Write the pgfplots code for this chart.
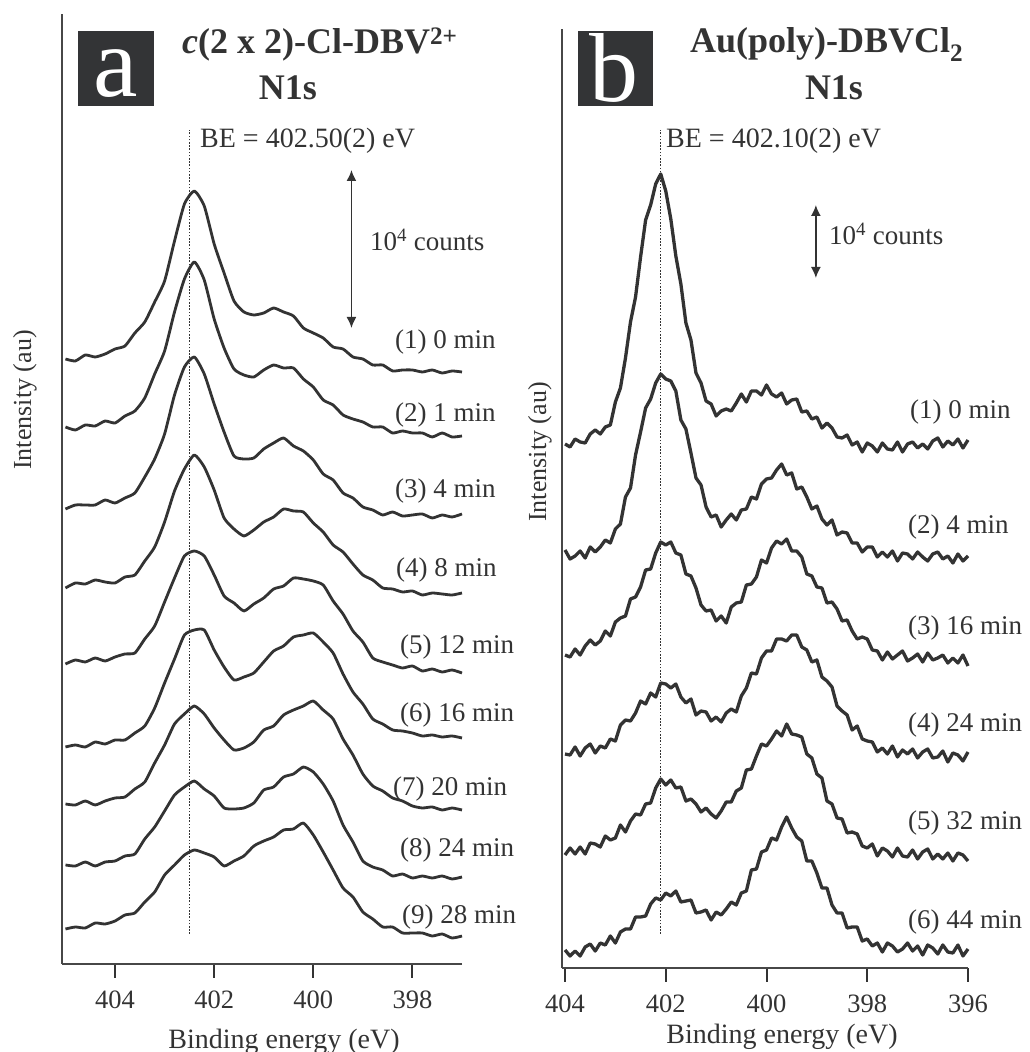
\documentclass[border=0pt]{standalone}
\usepackage{fontspec}
\setmainfont{Liberation Serif}
\usepackage{pgfplots}
\usepackage{pgfplotstable}
\pgfplotsset{compat=1.18}
\usetikzlibrary{arrows.meta}
\definecolor{ink}{HTML}{333333}
\definecolor{boxc}{HTML}{333436}

\pgfplotstableread{
be c1 c2 c3 c4 c5 c6 c7 c8 c9
405.0 605 537 455 376 300 217 160 99 35
404.8 603 534 459 381 304 219 159 98 37
404.6 609 539 459 380 302 217 163 102 36
404.4 607 538 459 384 306 222 159 98 41
404.2 610 543 464 382 303 220 163 102 40
404.0 615 541 461 381 307 224 166 103 43
403.8 618 548 466 387 310 224 167 108 49
403.6 631 553 471 389 311 231 175 110 51
403.4 642 566 487 403 325 238 182 125 62
403.2 662 590 505 417 338 256 201 137 72
403.0 683 613 530 442 362 281 219 153 89
402.8 723 652 569 473 386 305 240 169 99
402.6 760 685 597 495 408 329 250 177 109
402.4 773 702 607 509 413 334 258 183 114
402.2 758 684 590 497 408 334 250 175 111
402.0 720 645 560 474 389 314 236 168 107
401.8 691 616 532 446 368 297 224 156 98
401.6 663 595 508 435 361 284 214 155 103
401.4 652 589 505 428 353 287 216 156 108
401.2 649 587 506 434 360 291 222 161 118
401.0 651 594 515 442 366 302 234 174 123
400.8 656 599 521 447 375 313 238 177 127
400.6 652 596 526 455 378 318 249 187 134
400.4 648 596 518 453 386 327 254 190 135
400.2 636 585 513 452 385 329 258 197 141
400.0 631 577 504 441 383 331 263 192 129
399.8 626 564 490 432 379 322 254 180 112
399.6 617 559 484 419 363 311 245 163 94
399.4 615 549 471 412 350 290 225 139 76
399.2 607 545 466 400 333 272 209 122 67
399.0 605 542 457 389 322 260 190 103 52
398.8 599 537 454 384 306 245 178 97 45
398.6 599 537 449 376 302 240 173 94 37
398.4 593 531 452 375 299 234 166 88 37
398.2 594 533 448 372 296 233 163 90 31
398.0 594 531 449 373 298 231 158 86 31
397.8 592 531 450 369 293 228 156 88 31
397.6 594 527 446 371 295 229 157 86 28
397.4 591 531 449 370 292 227 154 88 30
397.2 593 527 447 369 294 228 156 85 26
397.0 592 528 450 371 291 226 154 87 28
}\tabA

\pgfplotstableread{
be b1 b2 b3 b4 b5 b6
404.0 524 418 313 214 113 18
403.9 521 409 311 213 120 12
403.8 529 412 319 221 114 17
403.7 526 417 313 212 121 12
403.6 525 410 322 220 114 21
403.5 534 421 328 224 125 24
403.4 538 416 323 215 124 17
403.3 534 421 327 222 121 25
403.2 541 428 337 220 132 23
403.1 543 425 332 229 128 32
403.0 566 439 346 227 130 25
402.9 580 444 350 243 143 36
402.8 610 471 352 248 136 39
402.7 646 480 369 247 147 39
402.6 671 513 371 255 154 51
402.5 711 536 381 267 153 51
402.4 748 560 398 264 164 52
402.3 763 569 399 275 165 64
402.2 784 585 415 271 180 70
402.1 794 594 426 285 189 68
402.0 777 589 423 284 183 75
401.9 749 587 426 280 188 72
401.8 712 577 415 284 180 77
401.7 684 548 413 271 181 66
401.6 645 539 394 265 167 67
401.5 628 515 392 269 169 68
401.4 595 490 380 253 164 55
401.3 585 483 363 257 156 56
401.2 567 461 357 256 160 58
401.1 564 451 358 247 154 48
401.0 552 453 347 251 150 56
400.9 557 441 352 246 157 53
400.8 559 448 345 255 166 59
400.7 557 454 361 259 166 66
400.6 565 448 365 256 177 63
400.5 574 458 366 272 180 75
400.4 566 459 383 280 198 77
400.3 577 471 384 295 199 98
400.2 577 469 391 294 212 99
400.1 573 484 408 310 224 116
400.0 583 489 405 317 222 118
399.9 574 490 420 317 229 130
399.8 571 498 427 329 237 128
399.7 575 504 424 329 232 141
399.6 564 493 429 327 244 151
399.5 568 495 417 333 234 140
399.4 569 479 417 333 233 131
399.3 556 481 411 321 231 127
399.2 557 471 394 318 214 107
399.1 549 459 392 306 210 107
399.0 551 462 381 308 194 95
398.9 540 449 380 291 190 80
398.8 545 443 365 287 167 80
398.7 540 448 366 281 164 63
398.6 531 433 359 262 150 55
398.5 530 436 347 257 149 55
398.4 533 435 348 253 135 40
398.3 523 425 337 238 136 41
398.2 526 425 329 242 134 41
398.1 516 416 331 229 122 27
398.0 525 421 329 227 120 29
397.9 522 421 318 226 124 22
397.8 516 411 317 216 112 25
397.7 525 416 308 220 120 16
397.6 519 411 316 214 117 25
397.5 518 417 309 222 111 22
397.4 526 407 313 211 120 16
397.3 516 415 317 218 112 19
397.2 524 414 307 214 111 25
397.1 526 409 310 219 118 17
397.0 520 416 314 210 109 22
396.9 524 411 306 216 116 13
396.8 519 407 315 219 119 23
396.7 527 414 308 210 109 20
396.6 530 416 310 211 114 14
396.5 521 409 313 217 109 23
396.4 527 412 305 206 115 16
396.3 523 405 310 215 107 15
396.2 529 414 305 213 115 23
396.1 520 407 313 207 113 12
396.0 528 412 302 216 107 19
}\tabB

\pgfplotsset{
  panel/.style={
    scale only axis, clip=false,
    axis lines=left,
    axis line style={-, line width=2.2pt, color=ink!90},
    x dir=reverse, ymin=0, ytick=\empty,
    tick align=outside, major tick length=14pt,
    every tick/.style={line width=2pt, color=ink},
    xticklabel style={font=\fontsize{26.5}{30}\selectfont, text=ink, yshift=-9pt},
    /pgf/number format/assume math mode=true,
    /pgf/number format/1000 sep={},
  },
  spec/.style={color=ink, line width=2.8pt, line join=round, smooth, tension=0.35},
  specb/.style={color=ink, line width=3.3pt, line join=round},
}

\begin{document}
\begin{tikzpicture}
\path[use as bounding box] (0pt,0pt) rectangle (1029pt,1052pt);

% ---------- panel a ----------
\begin{axis}[panel, at={(62pt,88pt)}, anchor=south west,
  width=400pt, height=950pt, xmin=397, xmax=405.07, ymax=950,
  xtick={398,400,402,404}]
  \foreach \c in {c1,c2,c3,c4,c5,c6,c7,c8,c9}{
    \addplot[spec] table[x=be, y=\c] {\tabA};
  }
  \addplot[ink, line width=1.2pt, dash pattern=on 1.6pt off 1.6pt] coordinates {(402.5,30) (402.5,834)};
  \draw[ink, line width=1.6pt, {Latex[length=11pt,width=10pt]}-{Latex[length=11pt,width=10pt]}]
    (axis cs:399.23,636) -- (axis cs:399.23,794);
\end{axis}

% ---------- panel b ----------
\begin{axis}[panel, at={(562pt,84pt)}, anchor=south west,
  width=406pt, height=939pt, xmin=396, xmax=404.06, ymax=939,
  xtick={396,398,400,402,404}]
  \foreach \c in {b1,b2,b3,b4,b5,b6}{
    \addplot[specb] table[x=be, y=\c] {\tabB};
  }
  \addplot[ink, line width=1.2pt, dash pattern=on 1.6pt off 1.6pt] coordinates {(402.1,34) (402.1,838)};
  \draw[ink, line width=1.6pt, {Latex[length=11pt,width=10pt]}-{Latex[length=11pt,width=10pt]}]
    (axis cs:399.02,690) -- (axis cs:399.02,763);
\end{axis}

% ---------- annotations ----------
\begin{scope}[every node/.style={inner sep=0pt, text=ink, font=\fontsize{27}{30}\selectfont}]
  % label boxes
  \fill[boxc] (78pt,946pt) rectangle (154pt,1021pt);
  \node[text=white, anchor=base, font=\fontsize{100}{100}\selectfont] at (116pt,955pt) {a};
  \fill[boxc] (578pt,946pt) rectangle (653pt,1021pt);
  \node[text=white, anchor=base, font=\fontsize{98}{98}\selectfont] at (614pt,950pt) {b};
  % titles
  \node[anchor=base west, font=\fontsize{36}{40}\selectfont\bfseries] at (182pt,998pt) {\textit{c}(2 x 2)-Cl-DBV\textsuperscript{2+}};
  \node[anchor=base, font=\fontsize{36}{40}\selectfont\bfseries] at (288pt,952pt) {N1s};
  \node[anchor=base west, font=\fontsize{36}{40}\selectfont\bfseries] at (690pt,999pt) {Au(poly)-DBVCl\textsubscript{2}};
  \node[anchor=base, font=\fontsize{36}{40}\selectfont\bfseries] at (834pt,952pt) {N1s};
  % BE
  \node[anchor=base west, font=\fontsize{28}{30}\selectfont] at (200pt,904pt) {BE = 402.50(2) eV};
  \node[anchor=base west, font=\fontsize{28}{30}\selectfont] at (666pt,904pt) {BE = 402.10(2) eV};
  % counts
  \node[anchor=base west] at (370pt,801pt) {10\textsuperscript{4} counts};
  \node[anchor=base west] at (829pt,807pt) {10\textsuperscript{4} counts};
  % y labels
  \node[rotate=90, font=\fontsize{26}{30}\selectfont] at (25pt,652pt) {Intensity (au)};
  \node[rotate=90, font=\fontsize{26}{30}\selectfont] at (540pt,600pt) {Intensity (au)};
  % x labels
  \node[anchor=base, font=\fontsize{28}{30}\selectfont] at (284pt,4pt) {Binding energy (eV)};
  \node[anchor=base, font=\fontsize{28}{30}\selectfont] at (782pt,9pt) {Binding energy (eV)};
  % curve labels a
  \node[anchor=west] at (395pt,710pt) {(1) 0 min};
  \node[anchor=west] at (395pt,637pt) {(2) 1 min};
  \node[anchor=west] at (395pt,561pt) {(3) 4 min};
  \node[anchor=west] at (396pt,482pt) {(4) 8 min};
  \node[anchor=west] at (400pt,405pt) {(5) 12 min};
  \node[anchor=west] at (400pt,337pt) {(6) 16 min};
  \node[anchor=west] at (393pt,263pt) {(7) 20 min};
  \node[anchor=west] at (400pt,202pt) {(8) 24 min};
  \node[anchor=west] at (402pt,135pt) {(9) 28 min};
  % curve labels b
  \node[anchor=west] at (910pt,640pt) {(1) 0 min};
  \node[anchor=west] at (908pt,525pt) {(2) 4 min};
  \node[anchor=west] at (908pt,424pt) {(3) 16 min};
  \node[anchor=west] at (908pt,327pt) {(4) 24 min};
  \node[anchor=west] at (908pt,229pt) {(5) 32 min};
  \node[anchor=west] at (908pt,130pt) {(6) 44 min};
\end{scope}
\end{tikzpicture}
\end{document}
